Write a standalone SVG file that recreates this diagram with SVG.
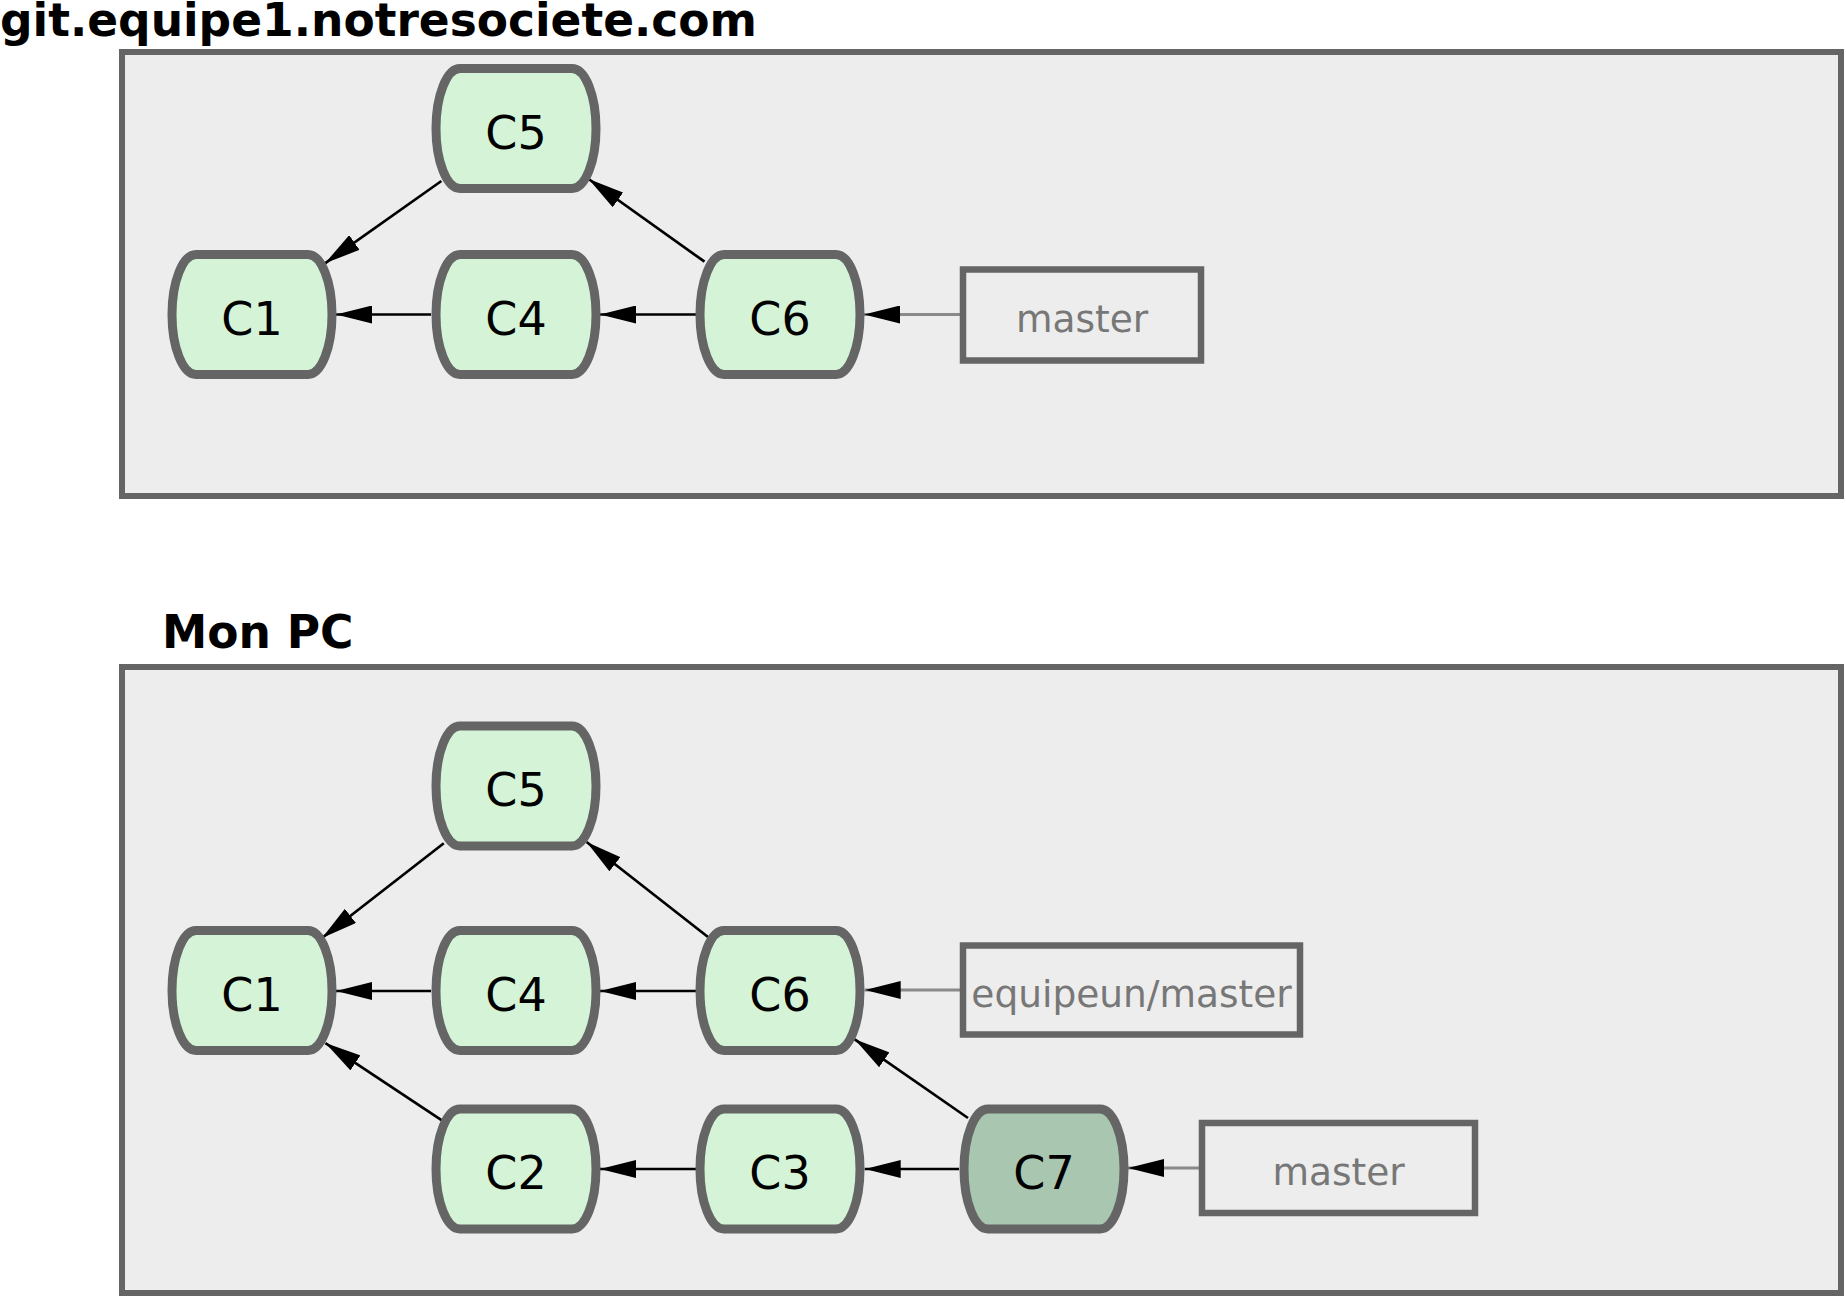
<svg xmlns="http://www.w3.org/2000/svg" width="1846" height="1296" viewBox="0 0 1846 1296">
<style>
.panel{fill:#ededed;stroke:#656565;stroke-width:6}
.title{font-family:"DejaVu Sans",sans-serif;font-weight:bold;font-size:45.5px;fill:#000}
.commit rect{fill:#d5f4d7;stroke:#656565;stroke-width:9}
.commit.cur rect{fill:#a9c6b1}
.commit text{font-family:"DejaVu Sans",sans-serif;font-size:46px;fill:#000;text-anchor:middle}
.ref rect{fill:#ededed;stroke:#656565;stroke-width:6.5}
.ref text{font-family:"DejaVu Sans",sans-serif;font-size:37.5px;fill:#777;text-anchor:middle}
.edge{stroke:#000;stroke-width:2.7;fill:none;marker-end:url(#arr)}
.refedge{stroke:#8a8a8a;stroke-width:3;fill:none;marker-end:url(#arr)}
</style>
<defs>
<marker id="arr" markerUnits="userSpaceOnUse" markerWidth="36" markerHeight="18" viewBox="0 0 36 18" refX="36" refY="9" orient="auto">
<path d="M0,0 L36,9 L0,18 z" fill="#000"/>
</marker>
</defs>
<rect width="1846" height="1296" fill="#fff"/>
<g id="panel-server">
<rect class="panel" x="122" y="52" width="1719" height="444"/>
<text class="title" x="0" y="36">git.equipe1.notresociete.com</text>
</g>
<g id="panel-pc">
<rect class="panel" x="122" y="667" width="1719" height="626"/>
<text class="title" x="162" y="648">Mon PC</text>
</g>
<g id="connectors">
<path class="edge" d="M431,314.5 L336,314.5"/>
<path class="edge" d="M696,314.5 L600,314.5"/>
<path class="refedge" d="M963,314.5 L864,314.5"/>
<path class="edge" d="M441.4,181 L325,263.3"/>
<path class="edge" d="M704.5,261.7 L588.6,179"/>
<path class="edge" d="M443.8,843.3 L322,938"/>
<path class="edge" d="M708,937 L586.6,842"/>
<path class="edge" d="M431,991 L336,991"/>
<path class="edge" d="M696,991 L600,991"/>
<path class="refedge" d="M963,990 L864.7,990"/>
<path class="edge" d="M441.5,1120 L325.4,1043"/>
<path class="edge" d="M696,1169 L600,1169"/>
<path class="edge" d="M959,1169 L864.7,1169"/>
<path class="edge" d="M968,1118 L854.7,1039.3"/>
<path class="refedge" d="M1202,1168 L1128,1168"/>
</g>
<g id="s-c5" class="commit"><rect x="436" y="68.5" width="160" height="120" rx="24" ry="60"/><text x="516" y="148.5">C5</text></g>
<g id="s-c1" class="commit"><rect x="172" y="254.5" width="160" height="120" rx="24" ry="60"/><text x="252" y="334.5">C1</text></g>
<g id="s-c4" class="commit"><rect x="436" y="254.5" width="160" height="120" rx="24" ry="60"/><text x="516" y="334.5">C4</text></g>
<g id="s-c6" class="commit"><rect x="700" y="254.5" width="160" height="120" rx="24" ry="60"/><text x="780" y="334.5">C6</text></g>
<g id="s-master" class="ref"><rect x="963" y="269.5" width="238" height="91"/><text x="1082" y="332">master</text></g>
<g id="p-c5" class="commit"><rect x="436" y="726" width="160" height="120" rx="24" ry="60"/><text x="516" y="806">C5</text></g>
<g id="p-c1" class="commit"><rect x="172" y="930.5" width="160" height="120" rx="24" ry="60"/><text x="252" y="1010.5">C1</text></g>
<g id="p-c4" class="commit"><rect x="436" y="930.5" width="160" height="120" rx="24" ry="60"/><text x="516" y="1010.5">C4</text></g>
<g id="p-c6" class="commit"><rect x="700" y="930.5" width="160" height="120" rx="24" ry="60"/><text x="780" y="1010.5">C6</text></g>
<g id="p-c2" class="commit"><rect x="436" y="1109" width="160" height="120" rx="24" ry="60"/><text x="516" y="1189">C2</text></g>
<g id="p-c3" class="commit"><rect x="700" y="1109" width="160" height="120" rx="24" ry="60"/><text x="780" y="1189">C3</text></g>
<g id="p-c7" class="commit cur"><rect x="964" y="1109" width="160" height="120" rx="24" ry="60"/><text x="1044" y="1189">C7</text></g>
<g id="p-equipeun-master" class="ref"><rect x="963" y="945.5" width="337" height="89"/><text x="1131.5" y="1007">equipeun/master</text></g>
<g id="p-master" class="ref"><rect x="1202" y="1123" width="273" height="90"/><text x="1338.5" y="1185">master</text></g>
</svg>
